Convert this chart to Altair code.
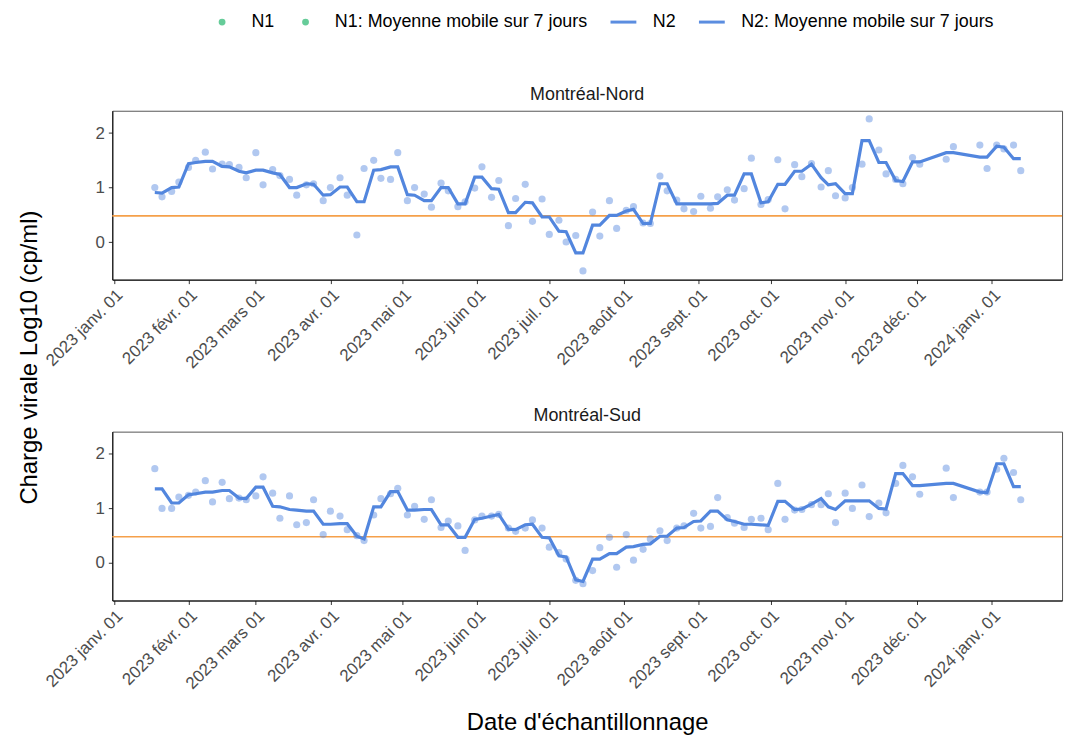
import altair as alt
import pandas as pd

# ---------------- data ----------------
dates = [
    "2023-01-18", "2023-01-21", "2023-01-25", "2023-01-28", "2023-02-01", "2023-02-04",
    "2023-02-08", "2023-02-11", "2023-02-15", "2023-02-18", "2023-02-22", "2023-02-25",
    "2023-03-01", "2023-03-04", "2023-03-08", "2023-03-11", "2023-03-15", "2023-03-18",
    "2023-03-22", "2023-03-25", "2023-03-29", "2023-04-01", "2023-04-05", "2023-04-08",
    "2023-04-12", "2023-04-15", "2023-04-19", "2023-04-22", "2023-04-26", "2023-04-29",
    "2023-05-03", "2023-05-06", "2023-05-10", "2023-05-13", "2023-05-17", "2023-05-20",
    "2023-05-24", "2023-05-27", "2023-05-31", "2023-06-03", "2023-06-07", "2023-06-10",
    "2023-06-14", "2023-06-17", "2023-06-21", "2023-06-24", "2023-06-28", "2023-07-01",
    "2023-07-05", "2023-07-08", "2023-07-12", "2023-07-15", "2023-07-19", "2023-07-22",
    "2023-07-26", "2023-07-29", "2023-08-02", "2023-08-05", "2023-08-09", "2023-08-12",
    "2023-08-16", "2023-08-19", "2023-08-23", "2023-08-26", "2023-08-30", "2023-09-02",
    "2023-09-06", "2023-09-09", "2023-09-13", "2023-09-16", "2023-09-20", "2023-09-23",
    "2023-09-27", "2023-09-30", "2023-10-04", "2023-10-07", "2023-10-11", "2023-10-14",
    "2023-10-18", "2023-10-22", "2023-10-25", "2023-10-28", "2023-11-01", "2023-11-04",
    "2023-11-08", "2023-11-11", "2023-11-15", "2023-11-18", "2023-11-22", "2023-11-25",
    "2023-11-29", "2023-12-02", "2023-12-13", "2023-12-16", "2023-12-27", "2023-12-30",
    "2024-01-03", "2024-01-06", "2024-01-10", "2024-01-13",
]

nord_brut = [
    1.00, 0.83, 0.93, 1.10, 1.37, 1.50, 1.65, 1.34, 1.43, 1.42,
    1.37, 1.18, 1.64, 1.05, 1.33, 1.22, 1.15, 0.86, 1.05, 1.07,
    0.76, 1.00, 1.18, 0.86, 0.13, 1.35, 1.50, 1.17, 1.15, 1.64,
    0.76, 1.00, 0.88, 0.64, 1.08, 0.94, 0.65, 0.74, 0.99, 1.38,
    0.82, 1.13, 0.30, 0.80, 1.06, 0.38, 0.79, 0.14, 0.40, 0.00,
    0.12, -0.53, 0.55, 0.11, 0.76, 0.25, 0.58, 0.65, 0.35, 0.34,
    1.21, 0.94, 0.77, 0.61, 0.56, 0.84, 0.62, 0.83, 0.96, 0.77,
    0.98, 1.54, 0.69, 0.78, 1.51, 0.61, 1.42, 1.20, 1.44, 1.01,
    1.31, 0.85, 0.81, 1.00, 1.43, 2.26, 1.69, 1.25, 1.15, 1.07,
    1.55, 1.43, 1.52, 1.75, 1.78, 1.35, 1.78, 1.71, 1.78, 1.31,
]

nord_moy = [
    0.91, 0.90, 1.00, 1.01, 1.44, 1.46, 1.48, 1.48, 1.39, 1.38,
    1.30, 1.27, 1.32, 1.32, 1.27, 1.24, 1.00, 1.00, 1.07, 1.06,
    0.86, 0.87, 1.01, 1.01, 0.74, 0.74, 1.32, 1.33, 1.38, 1.38,
    0.87, 0.86, 0.76, 0.76, 1.00, 1.00, 0.70, 0.70, 1.19, 1.19,
    0.98, 0.97, 0.54, 0.54, 0.73, 0.72, 0.46, 0.46, 0.20, 0.19,
    -0.20, -0.20, 0.31, 0.31, 0.49, 0.49, 0.57, 0.60, 0.34, 0.34,
    1.07, 1.07, 0.70, 0.70, 0.70, 0.70, 0.70, 0.71, 0.86, 0.86,
    1.25, 1.25, 0.72, 0.74, 1.06, 1.06, 1.30, 1.30, 1.43, 1.18,
    1.05, 1.07, 0.89, 0.89, 1.86, 1.86, 1.46, 1.46, 1.13, 1.11,
    1.47, 1.47, 1.64, 1.64, 1.56, 1.56, 1.76, 1.74, 1.53, 1.53,
]

sud_brut = [
    1.73, 1.00, 1.00, 1.21, 1.24, 1.30, 1.51, 1.12, 1.48, 1.18,
    1.19, 1.16, 1.23, 1.58, 1.28, 0.82, 1.23, 0.70, 0.74, 1.16,
    0.52, 0.95, 0.86, 0.61, 0.50, 0.41, 0.88, 1.18, 1.27, 1.37,
    0.88, 1.04, 0.80, 1.16, 0.65, 0.77, 0.68, 0.23, 0.79, 0.86,
    0.86, 0.89, 0.64, 0.58, 0.64, 0.79, 0.64, 0.29, 0.19, 0.07,
    -0.32, -0.38, -0.14, 0.28, 0.47, -0.08, 0.52, 0.05, 0.25, 0.44,
    0.59, 0.41, 0.64, 0.68, 0.91, 0.64, 0.67, 1.20, 0.83, 0.73,
    0.65, 0.80, 0.82, 0.61, 1.46, 0.80, 0.97, 0.98, 1.07, 1.07,
    1.27, 0.74, 1.28, 1.00, 1.43, 0.85, 1.10, 0.92, 1.46, 1.79,
    1.58, 1.26, 1.74, 1.20, 1.30, 1.30, 1.72, 1.92, 1.66, 1.16,
]

sud_moy = [
    1.36, 1.36, 1.10, 1.10, 1.25, 1.27, 1.30, 1.30, 1.33, 1.33,
    1.19, 1.18, 1.39, 1.39, 1.04, 1.03, 0.98, 0.97, 0.95, 0.95,
    0.71, 0.71, 0.72, 0.72, 0.49, 0.44, 1.03, 1.03, 1.31, 1.31,
    0.97, 0.97, 0.98, 0.98, 0.70, 0.70, 0.47, 0.47, 0.80, 0.82,
    0.86, 0.89, 0.62, 0.61, 0.70, 0.71, 0.47, 0.46, 0.13, 0.11,
    -0.31, -0.34, 0.07, 0.07, 0.17, 0.17, 0.29, 0.30, 0.34, 0.35,
    0.49, 0.49, 0.64, 0.65, 0.76, 0.77, 0.95, 0.95, 0.79, 0.76,
    0.71, 0.71, 0.70, 0.69, 1.13, 1.13, 0.98, 0.99, 1.08, 1.18,
    1.03, 0.98, 1.14, 1.14, 1.14, 1.14, 1.00, 0.99, 1.64, 1.64,
    1.42, 1.42, 1.46, 1.46, 1.30, 1.29, 1.82, 1.82, 1.40, 1.40,
]

seuil = [0.48]

series = ["N1", "N1: Moyenne mobile sur 7 jours", "N2", "N2: Moyenne mobile sur 7 jours"]
series_colors = ["#66CC99", "#66CC99", "#5B8DE0", "#5B8DE0"]
series_shapes = [
    "M-0.15,0A0.15,0.15,0,1,1,0.15,0A0.15,0.15,0,1,1,-0.15,0Z",
    "M-0.15,0A0.15,0.15,0,1,1,0.15,0A0.15,0.15,0,1,1,-0.15,0Z",
    "M-1,0H1",
    "M-1,0H1",
]

panel_titles = ["Montréal-Nord", "Montréal-Sud"]
y_title = "Charge virale Log10 (cp/ml)"
x_title = "Date d'échantillonnage"
mois_fr = ["janv.", "févr.", "mars", "avr.", "mai", "juin", "juil.", "août",
           "sept.", "oct.", "nov.", "déc."]
tick_months = [(2023, m) for m in range(1, 13)] + [(2024, 1)]
y_ticks = [0, 1, 2]

# ---------------- style ----------------
FONT = "Liberation Sans"
BLUE = "#5286DE"
ORANGE = "#F5A04A"
W, H = 956, 170

x_scale = alt.Scale(
    type="utc",
    domain=[alt.DateTime(year=2022, month=12, date=31, hours=8, utc=True),
            alt.DateTime(year=2024, month=1, date=30, hours=4, utc=True)],
)
y_scale = alt.Scale(domain=[-0.69, 2.41], nice=False, zero=False)

tick_values = [alt.DateTime(year=y, month=m, date=1, utc=True) for (y, m) in tick_months]
month_list = "[" + ",".join("'" + m + "'" for m in mois_fr) + "]"
label_expr = ("utcFormat(datum.value, '%Y') + ' ' + " + month_list +
              "[utcmonth(datum.value)] + ' ' + utcFormat(datum.value, '%d')")


def x_axis(show_title):
    kw = dict(values=tick_values, labelExpr=label_expr, labelAngle=-45,
              labelAlign="right", labelBaseline="top", labelOverlap=False,
              labelPadding=3)
    if show_title:
        kw.update(title=x_title, titlePadding=19)
    else:
        kw.update(title=None)
    return alt.Axis(**kw)


def y_axis(show_title):
    kw = dict(values=y_ticks, labelPadding=4)
    if show_title:
        kw.update(title=y_title, titleY=248, titlePadding=54)
    else:
        kw.update(title=None)
    return alt.Axis(**kw)


def panel(brut, moy, titre, first):
    df = pd.DataFrame({"date": dates, "brut": brut, "moy": moy})
    xenc = alt.X("date:T", scale=x_scale, axis=x_axis(not first))
    ax = y_axis(first)
    rule = alt.Chart(pd.DataFrame({"seuil": seuil})).mark_rule(
        color=ORANGE, strokeWidth=1.6
    ).encode(y=alt.Y("seuil:Q", scale=y_scale, axis=ax))
    pts = alt.Chart(df).mark_circle(size=52, opacity=0.45, color=BLUE).encode(
        x=xenc, y=alt.Y("brut:Q", scale=y_scale, axis=ax)
    )
    line = alt.Chart(df).mark_line(color=BLUE, strokeWidth=3.2).encode(
        x=xenc, y=alt.Y("moy:Q", scale=y_scale, axis=ax)
    )
    layers = [rule, pts, line]
    if first:
        leg_df = pd.DataFrame({"serie": series, "date": [dates[0]] * 4,
                               "v": [moy[0]] * 4})
        legend = alt.Legend(
            title=None, orient="none", legendX=96, legendY=-104,
            direction="horizontal", columns=4, symbolSize=676,
            symbolStrokeWidth=3, symbolOpacity=1, labelFont=FONT,
            labelFontSize=18, labelColor="#000000", labelLimit=0,
            columnPadding=16, labelOffset=15,
        )
        leg = alt.Chart(leg_df).mark_point(filled=True, opacity=0, size=676).encode(
            x=xenc,
            y=alt.Y("v:Q", scale=y_scale, axis=ax),
            fill=alt.Fill("serie:N", scale=alt.Scale(domain=series, range=series_colors),
                          legend=legend),
            stroke=alt.Stroke("serie:N", scale=alt.Scale(domain=series, range=series_colors),
                              legend=legend),
            shape=alt.Shape("serie:N", scale=alt.Scale(domain=series, range=series_shapes),
                            legend=legend),
        )
        layers.append(leg)
    return alt.layer(*layers).properties(
        width=W, height=H,
        title=alt.TitleParams(titre, fontSize=18, fontWeight="normal", font=FONT,
                              color="#1A1A1A", anchor="middle", offset=7),
    )


top = panel(nord_brut, nord_moy, panel_titles[0], True)
bottom = panel(sud_brut, sud_moy, panel_titles[1], False)

chart = alt.vconcat(top, bottom, spacing=153, bounds="flush").properties(
    padding={"left": 9, "top": -3, "right": 5, "bottom": 5}
).configure_view(
    stroke="#555555", strokeWidth=1
).configure_axis(
    labelFont=FONT, labelFontSize=17, labelColor="#4D4D4D",
    titleFont=FONT, titleFontSize=24, titleFontWeight="normal", titleColor="#000000",
    tickColor="#333333", tickSize=4, tickWidth=1,
    domainColor="#000000", domainWidth=1, grid=False,
)

chart.save("out.html", embed_options={"renderer": "svg", "actions": False})
